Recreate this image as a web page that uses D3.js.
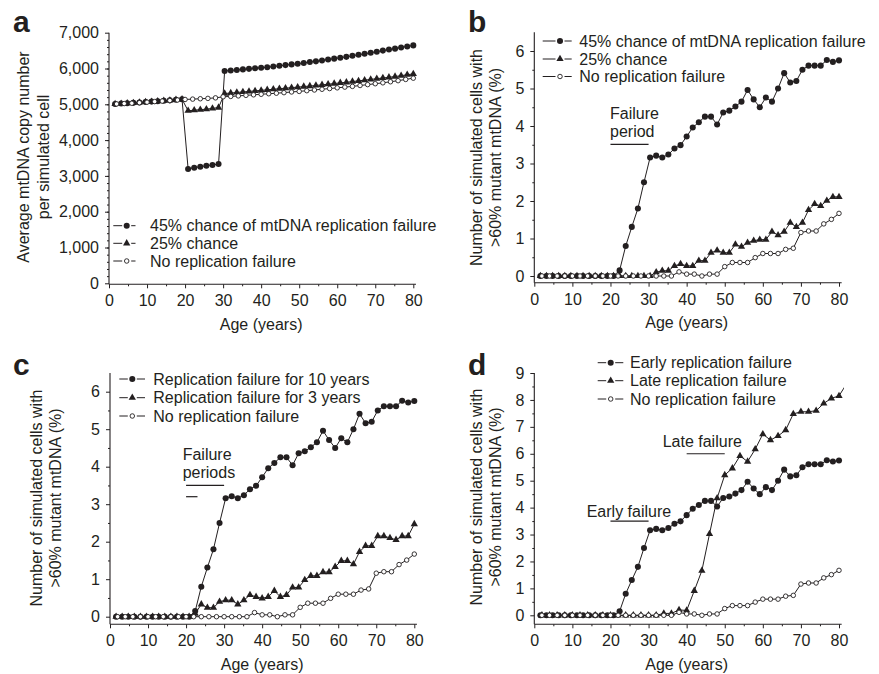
<!DOCTYPE html>
<html>
<head>
<meta charset="utf-8">
<script src="https://cdn.jsdelivr.net/npm/d3@7"></script>
<style>
  body { margin: 0; background: #fff; }
  svg text { font-family: "Liberation Sans", Arial, Helvetica, sans-serif; fill: #231f20; }
</style>
</head>
<body>
<svg id="fig" width="879" height="674"></svg>
<script>
// ages sampled every 1.6 years and every 2 years
var ages16 = [1.6, 3.2, 4.8, 6.4, 8, 9.6, 11.2, 12.8, 14.4, 16, 17.6, 19.2, 20.8, 22.4, 24, 25.6, 27.2, 28.8,
  30.4, 32, 33.6, 35.2, 36.8, 38.4, 40, 41.6, 43.2, 44.8, 46.4, 48, 49.6, 51.2, 52.8, 54.4, 56, 57.6,
  59.2, 60.8, 62.4, 64, 65.6, 67.2, 68.8, 70.4, 72, 73.6, 75.2, 76.8, 78.4, 80];
var ages2 = [2, 4, 6, 8, 10, 12, 14, 16, 18, 20, 22, 24, 26, 28, 30, 32, 34, 36, 38, 40,
  42, 44, 46, 48, 50, 52, 54, 56, 58, 60, 62, 64, 66, 68, 70, 72, 74, 76, 78, 80];
var ages2Late = ages2.concat([82]);

// panel a: copy number
var copy45 = [5010, 5020, 5030, 5040, 5050, 5065, 5075, 5085, 5100, 5110, 5125, 5140,
  3195, 3230, 3255, 3285, 3305, 3330,
  5930, 5945, 5960, 5975, 5990, 6005, 6020, 6035, 6055, 6075, 6095, 6115, 6135, 6155, 6180, 6200,
  6225, 6250, 6275, 6300, 6325, 6355, 6385, 6410, 6440, 6470, 6500, 6530, 6555, 6585, 6615, 6645];
var copy25 = [5010, 5020, 5030, 5040, 5050, 5065, 5075, 5085, 5100, 5110, 5125, 5140,
  4820, 4835, 4850, 4865, 4885, 4910,
  5300, 5315, 5330, 5345, 5360, 5375, 5390, 5405, 5420, 5435, 5450, 5465, 5480, 5495, 5510, 5525,
  5545, 5560, 5580, 5600, 5615, 5635, 5655, 5675, 5695, 5715, 5735, 5755, 5775, 5800, 5825, 5850];
var copyNone = [5010, 5020, 5030, 5045, 5060, 5075, 5090, 5105, 5120, 5135,
  5145, 5155, 5165, 5180, 5210, 5220, 5235, 5250, 5265, 5280,
  5295, 5310, 5325, 5345, 5360, 5380, 5400, 5420, 5440, 5460,
  5480, 5500, 5525, 5550, 5575, 5600, 5630, 5660, 5695, 5730];

// panels b-d: % cells with >60% mutant mtDNA
var mutant10yr = [0, 0, 0, 0, 0, 0, 0, 0, 0, 0, 0, 0, 0,
  0.15, 0.8, 1.31, 1.8, 2.5, 3.16, 3.21, 3.16, 3.24, 3.4, 3.49, 3.72, 3.96, 4.1, 4.25,
  4.25, 4.04, 4.36, 4.41, 4.52, 4.65, 4.96, 4.71, 4.5, 4.76, 4.65, 5.0, 5.41, 5.16, 5.2,
  5.5, 5.61, 5.61, 5.61, 5.76, 5.71, 5.75];
var mutant25 = [0, 0, 0, 0, 0, 0, 0, 0, 0, 0, 0, 0, 0, 0, 0, 0, 0, 0, 0,
  0.1, 0.14, 0.14, 0.27, 0.32, 0.27, 0.27, 0.41, 0.41, 0.62, 0.68, 0.62, 0.62, 0.84, 0.78,
  0.89, 0.94, 0.97, 0.97, 1.18, 1.09, 1.18, 1.42, 1.31, 1.42, 1.76, 1.92, 1.87, 2.01, 2.11, 2.11];
var mutant3yr = [0, 0, 0, 0, 0, 0, 0, 0, 0, 0, 0, 0, 0, 0.08,
  0.33, 0.24, 0.24, 0.4, 0.44, 0.44, 0.33, 0.44, 0.58, 0.53, 0.49, 0.53, 0.69, 0.53, 0.58,
  0.78, 0.78, 0.98, 1.09, 1.09, 1.19, 1.19, 1.33, 1.49, 1.49, 1.4, 1.73, 1.89, 1.89,
  2.15, 2.15, 2.1, 2.05, 2.15, 2.15, 2.47];
var mutantLate = [0, 0, 0, 0, 0, 0, 0, 0, 0, 0, 0, 0, 0, 0, 0, 0,
  0.07, 0.07, 0.2, 0.18, 0.91, 1.66, 3.02, 4.35, 5.21, 5.46, 5.92, 5.71, 6.17, 6.73,
  6.51, 6.66, 6.88, 7.48, 7.56, 7.56, 7.6, 7.87, 8.06, 8.15, 8.6];
var mutantNone = [0, 0, 0, 0, 0, 0, 0, 0, 0, 0, 0, 0, 0, 0, 0, 0, 0, 0,
  0.11, 0.05, 0.05, 0, 0.05, 0.05, 0.25, 0.36, 0.36, 0.36, 0.49, 0.6, 0.6, 0.6, 0.71, 0.74,
  1.16, 1.2, 1.2, 1.39, 1.51, 1.67];

var xTicks = [0, 10, 20, 30, 40, 50, 60, 70, 80];
var xMinor = [5, 15, 25, 35, 45, 55, 65, 75];
var legendA = ['45% chance of mtDNA replication failure', '25% chance', 'No replication failure'];
var legendC = ['Replication failure for 10 years', 'Replication failure for 3 years', 'No replication failure'];
var legendD = ['Early replication failure', 'Late replication failure', 'No replication failure'];
var titleA = ['Average mtDNA copy number', 'per simulated cell'];
var titleMut = ['Number of simulated cells with', '>60% mutant mtDNA (%)'];

var ink = '#231f20';
var svg = d3.select('#fig');
var uid = 0;

function marker(g, shape, x, y) {
  var sym = d3.symbol().type(shape == 'tri' ? d3.symbolTriangle : d3.symbolCircle)
    .size(shape == 'dot' ? 29 : shape == 'tri' ? 23 : 16);
  g.append('path')
    .attr('d', sym())
    .attr('transform', 'translate(' + x + ',' + y + ')')
    .attr('fill', shape == 'open' ? '#fff' : ink)
    .attr('stroke', shape == 'open' ? ink : 'none')
    .attr('stroke-width', 0.9);
}

function drawPanel(p) {
  var g = svg.append('g');
  var x = d3.scaleLinear().domain([0, 80]).range([p.x0, p.x80]);
  var y = d3.scaleLinear().domain(p.yDomain).range(p.yRange);

  // axes
  g.append('g').attr('transform', 'translate(0,' + p.axisY + ')')
    .call(d3.axisBottom(x).tickValues(xTicks).tickSize(4).tickPadding(6.5));
  g.append('g').attr('transform', 'translate(0,' + p.axisY + ')')
    .call(d3.axisBottom(x).tickValues(xMinor).tickSize(2).tickFormat(''));
  g.append('g').attr('transform', 'translate(' + p.x0 + ',0)')
    .call(d3.axisLeft(y).tickValues(p.yTicks).tickSize(4).tickPadding(6).tickFormat(p.yFormat));
  g.append('g').attr('transform', 'translate(' + p.x0 + ',0)')
    .call(d3.axisLeft(y).tickValues(p.yMinor).tickSize(2).tickFormat(''));
  g.selectAll('.domain').remove();
  g.selectAll('.tick line').attr('stroke', ink);
  g.selectAll('.tick text').style('font-size', '16px').attr('fill', ink);
  g.append('line').attr('x1', x(0)).attr('x2', x(80.7)).attr('y1', p.axisY).attr('y2', p.axisY)
    .attr('stroke', ink).attr('stroke-width', 1.1);
  g.append('line').attr('x1', p.x0).attr('x2', p.x0).attr('y1', p.axisY).attr('y2', y(p.yAxisTop))
    .attr('stroke', ink).attr('stroke-width', 1.1);

  // titles
  g.append('text').attr('x', (p.x0 + p.x80) / 2).attr('y', p.axisY + 45.7)
    .attr('text-anchor', 'middle').style('font-size', '16px').text('Age (years)');
  p.yTitle.forEach(function(t, i) {
    g.append('text')
      .attr('transform', 'translate(' + p.titleX[i] + ',' + p.titleY + ') rotate(-90)')
      .attr('text-anchor', 'middle').attr('dy', '0.35em').style('font-size', '16px').text(t);
  });
  g.append('text').attr('x', p.label[1]).attr('y', p.label[2])
    .style('font-size', '30px').style('font-weight', 'bold').text(p.label[0]);

  // series
  var id = 'clip' + (uid++);
  g.append('clipPath').attr('id', id).append('rect')
    .attr('x', x(0) - 6).attr('y', 0).attr('width', x(81.3) - x(0) + 6).attr('height', 674);
  var line = d3.line().x(function(d) { return x(d[0]); }).y(function(d) { return y(d[1]); });
  p.series.forEach(function(s) {
    var pts = d3.zip(s.ages, s.values);
    g.append('path').attr('d', line(pts)).attr('fill', 'none')
      .attr('stroke', ink).attr('stroke-width', 1).attr('clip-path', 'url(#' + id + ')');
  });
  p.series.forEach(function(s) {
    d3.zip(s.ages, s.values).forEach(function(d) {
      if (d[0] <= 80) marker(g, s.shape, x(d[0]), y(d[1]));
    });
  });

  // legend: -o- symbol then label
  var lx = p.legendX;
  p.legend.forEach(function(t, i) {
    var ly = p.legendY[i];
    [[lx[0], lx[1] - 4.5], [lx[1] + 4.5, lx[2]]].forEach(function(seg) {
      g.append('line').attr('x1', seg[0]).attr('x2', seg[1]).attr('y1', ly).attr('y2', ly)
        .attr('stroke', ink).attr('stroke-width', 1);
    });
    marker(g, p.series[i].shape, lx[1], ly);
    g.append('text').attr('x', lx[3]).attr('y', ly).attr('dy', '0.36em')
      .style('font-size', '16px').text(t);
  });

  // failure period annotations
  (p.notes || []).forEach(function(n) {
    if (n.text) {
      g.append('text').attr('x', n.tx).attr('y', n.ty).style('font-size', '16px').text(n.text);
    } else {
      g.append('line').attr('x1', x(n.from)).attr('x2', x(n.to)).attr('y1', y(n.at)).attr('y2', y(n.at))
        .attr('stroke', ink).attr('stroke-width', 1.2);
    }
  });
}

drawPanel({
  label: ['a', 13, 32],
  x0: 109, x80: 413.3, axisY: 284.3,
  yDomain: [0, 7000], yRange: [283.3, 32.7], yAxisTop: 7000,
  yTicks: d3.range(0, 7001, 1000), yMinor: d3.range(200, 7000, 200), yFormat: d3.format(','),
  yTitle: titleA, titleX: [23, 43], titleY: 157,
  series: [
    { ages: ages16, values: copy45, shape: 'dot' },
    { ages: ages16, values: copy25, shape: 'tri' },
    { ages: ages2, values: copyNone, shape: 'open' }
  ],
  legend: legendA, legendX: [113.3, 126.7, 135.5, 150], legendY: [225.7, 243.3, 261]
});

drawPanel({
  label: ['b', 468, 31.7],
  x0: 534.3, x80: 839, axisY: 282.7,
  yDomain: [0, 6], yRange: [276, 51], yAxisTop: 6.5,
  yTicks: [0, 1, 2, 3, 4, 5, 6], yMinor: [0.5, 1.5, 2.5, 3.5, 4.5, 5.5], yFormat: d3.format('d'),
  yTitle: titleMut, titleX: [476.7, 495], titleY: 157.5,
  series: [
    { ages: ages16, values: mutant10yr, shape: 'dot' },
    { ages: ages16, values: mutant25, shape: 'tri' },
    { ages: ages2, values: mutantNone, shape: 'open' }
  ],
  legend: legendA, legendX: [542.7, 560, 571.7, 579.3], legendY: [41, 59, 76.5],
  notes: [
    { text: 'Failure', tx: 610, ty: 119 },
    { text: 'period', tx: 610, ty: 137 },
    { from: 20, to: 30, at: 3.51 }
  ]
});

drawPanel({
  label: ['c', 13, 375],
  x0: 110, x80: 414.3, axisY: 624.3,
  yDomain: [0, 6], yRange: [616.7, 391.7], yAxisTop: 6.5,
  yTicks: [0, 1, 2, 3, 4, 5, 6], yMinor: [0.5, 1.5, 2.5, 3.5, 4.5, 5.5], yFormat: d3.format('d'),
  yTitle: titleMut, titleX: [36.7, 55], titleY: 498,
  series: [
    { ages: ages16, values: mutant10yr, shape: 'dot' },
    { ages: ages16, values: mutant3yr, shape: 'tri' },
    { ages: ages2, values: mutantNone, shape: 'open' }
  ],
  legend: legendC, legendX: [119.3, 132.3, 145, 153.3], legendY: [379, 397.7, 416],
  notes: [
    { text: 'Failure', tx: 182.7, ty: 459.5 },
    { text: 'periods', tx: 182.7, ty: 478 },
    { from: 20, to: 30, at: 3.5 },
    { from: 20, to: 23, at: 3.2 }
  ]
});

drawPanel({
  label: ['d', 468, 375],
  x0: 534.3, x80: 839, axisY: 624.3,
  yDomain: [0, 9], yRange: [615.3, 373], yAxisTop: 9,
  yTicks: [0, 1, 2, 3, 4, 5, 6, 7, 8, 9], yMinor: [0.5, 1.5, 2.5, 3.5, 4.5, 5.5, 6.5, 7.5, 8.5], yFormat: d3.format('d'),
  yTitle: titleMut, titleX: [476.7, 495], titleY: 497,
  series: [
    { ages: ages16, values: mutant10yr, shape: 'dot' },
    { ages: ages2Late, values: mutantLate, shape: 'tri' },
    { ages: ages2, values: mutantNone, shape: 'open' }
  ],
  legend: legendD, legendX: [597.7, 610.7, 623.3, 630], legendY: [362.7, 380.7, 399],
  notes: [
    { text: 'Late failure', tx: 662.7, ty: 447 },
    { from: 40, to: 50, at: 6.0 },
    { text: 'Early failure', tx: 586.7, ty: 516.5 },
    { from: 20, to: 30, at: 3.5 }
  ]
});
</script>
</body>
</html>
